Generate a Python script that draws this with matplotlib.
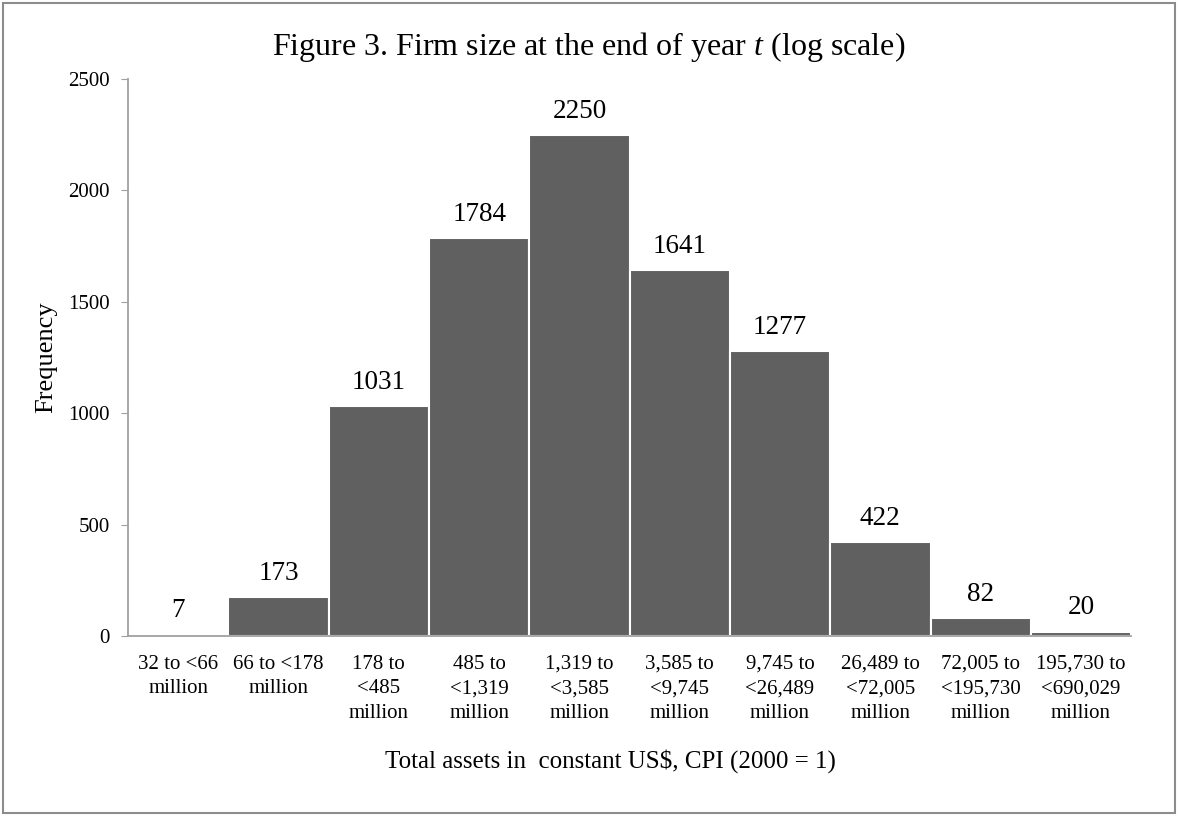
import numpy as np
import matplotlib
matplotlib.use('Agg')
from matplotlib import pyplot as plt
from matplotlib.patches import Rectangle

#############################################
#Data
size_bins = ['32 to <66\nmillion', '66 to <178\nmillion', '178 to\n<485\nmillion',
             '485 to\n<1,319\nmillion', '1,319 to\n<3,585\nmillion',
             '3,585 to\n<9,745\nmillion', '9,745 to\n<26,489\nmillion',
             '26,489 to\n<72,005\nmillion', '72,005 to\n<195,730\nmillion',
             '195,730 to\n<690,029\nmillion']
freq = [7, 173, 1031, 1784, 2250, 1641, 1277, 422, 82, 20]
y_ticks = [0, 500, 1000, 1500, 2000, 2500]
#############################################

#############################################
#Chart template
serif_theme = {'font.family': 'Liberation Serif',
               'mathtext.fontset': 'custom',
               'mathtext.rm': 'Liberation Serif',
               'mathtext.it': 'Liberation Serif:italic',
               'figure.dpi': 100}
matplotlib.rcParams.update(serif_theme)
#############################################

fig = plt.figure(figsize=(11.78, 8.18), dpi=100)
ax = fig.add_axes([0.1087, 0.2225, 0.8515, 0.681])

x = np.arange(len(freq))
ax.bar(x, freq, width=1.0, color='#606060', edgecolor='white', linewidth=1.5)

for xi, v in zip(x, freq):
    ax.annotate(f'{v}', (xi, v), xytext=(0, 8), textcoords='offset points',
                ha='center', va='bottom', fontsize=19.5)

ax.set_xlim(-0.5, len(freq) - 0.5)
ax.set_ylim(0, 2500)
ax.set_yticks(y_ticks)
ax.set_xticks(x)
ax.set_xticklabels(size_bins, fontsize=15, linespacing=1.4, va='top')
ax.tick_params(axis='x', length=0, pad=13.5)
ax.tick_params(axis='y', labelsize=15, length=5, color='#a0a0a0', pad=8)
for s in ['top', 'right']:
    ax.spines[s].set_visible(False)
for s in ['left', 'bottom']:
    ax.spines[s].set_color('#a0a0a0')
    ax.spines[s].set_linewidth(1.3)

ax.set_ylabel('Frequency', fontsize=19, labelpad=8)
fig.text(610 / 1178, 1 - 761 / 818, 'Total assets in  constant US$, CPI (2000 = 1)',
         ha='center', va='center', fontsize=18)
fig.text(0.5, 1 - 47 / 818, r'Figure 3. Firm size at the end of year $t$ (log scale)',
         ha='center', va='center', fontsize=23)

#Border around the whole chart
fig.patches.append(Rectangle((3 / 1178, 5 / 818), 1172 / 1178, 810 / 818,
                             transform=fig.transFigure, fill=False,
                             edgecolor='#8c8c8c', linewidth=1.5))

plt.savefig('out.png', dpi=100)
